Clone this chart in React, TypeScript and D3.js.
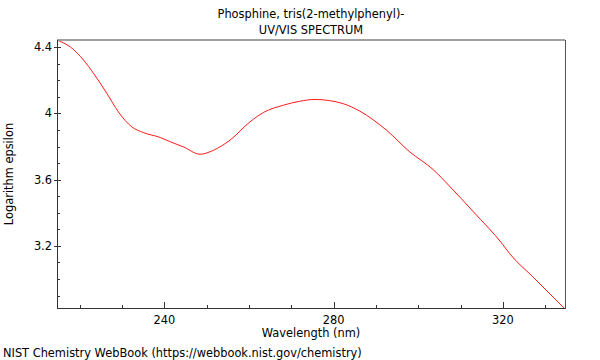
import React from 'react'
import { scaleLinear, line, curveMonotoneX } from 'd3'

const width = 600
const height = 360
const margin = { left: 57, right: 35, top: 40, bottom: 52 }
const innerW = width - margin.left - margin.right
const innerH = height - margin.top - margin.bottom

const titleLines = ['Phosphine, tris(2-methylphenyl)-', 'UV/VIS SPECTRUM']

// wavelength (nm) and log epsilon
const wavelengths = [
  214.6, 217.75, 220.9, 223.25, 226.4, 229.1, 232.3, 235.0, 239.0, 241.3, 244.5,
  248.4, 251.6, 255.5, 260.2, 263.4, 268.1, 272.0, 275.6, 279.0, 282.2, 286.2,
  292.5, 298.0, 303.5, 307.4, 312.9, 320.0, 321.6, 327.1, 334.6,
]
const logEps = [
  4.443, 4.402, 4.322, 4.242, 4.121, 4.010, 3.919, 3.885, 3.855, 3.83, 3.798,
  3.754, 3.778, 3.839, 3.949, 4.006, 4.050, 4.074, 4.085, 4.078, 4.060, 4.014,
  3.899, 3.768, 3.662, 3.561, 3.410, 3.208, 3.154, 3.013, 2.822,
]

const xMajor = [240, 280, 320]
const xMinor = [220, 230, 250, 260, 270, 290, 300, 310, 330]
const yMajor = [3.2, 3.6, 4, 4.4]
const yMinor = [2.9, 3.0, 3.1, 3.3, 3.4, 3.5, 3.7, 3.8, 3.9, 4.1, 4.2, 4.3]

const x = scaleLinear().domain([214.6, 334.7]).range([0, innerW])
const y = scaleLinear().domain([2.825, 4.444]).range([innerH, 0])

const spectrum = line<number>()
  .x((_, i) => x(wavelengths[i]))
  .y(d => y(d))
  .curve(curveMonotoneX)

const font = 'DejaVu Sans, sans-serif'
const fs = 11.4

export default function App() {
  return (
    <svg width={width} height={height} style={{ position: 'absolute', left: 0, top: 0, background: '#fff' }}>
      {titleLines.map((t, i) => (
        <text key={t} x={margin.left + innerW / 2} y={18 + i * 16} textAnchor="middle"
          fontFamily={font} fontSize={fs} fill="#000">{t}</text>
      ))}
      <g transform={`translate(${margin.left},${margin.top})`}>
        <path d={spectrum(logEps) ?? ''} fill="none" stroke="#ff0000" strokeWidth={0.9} />
        {/* frame */}
        <line x1={0} x2={innerW} y1={0} y2={0} stroke="#a0a0a0" strokeWidth={2} />
        <line x1={innerW + 0.5} x2={innerW + 0.5} y1={0} y2={innerH} stroke="#555" strokeWidth={1} />
        <line x1={0.5} x2={0.5} y1={0} y2={innerH} stroke="#333" strokeWidth={1} />
        <line x1={0} x2={innerW + 1} y1={innerH + 0.5} y2={innerH + 0.5} stroke="#333" strokeWidth={1} />
        {xMajor.map(v => (
          <g key={v}>
            <line x1={Math.round(x(v)) + 0.5} x2={Math.round(x(v)) + 0.5} y1={innerH} y2={innerH - 6} stroke="#333" />
            <text x={x(v)} y={innerH + 16} textAnchor="middle" fontFamily={font} fontSize={fs} fill="#000">{v}</text>
          </g>
        ))}
        {xMinor.map(v => (
          <line key={v} x1={Math.round(x(v)) + 0.5} x2={Math.round(x(v)) + 0.5} y1={innerH} y2={innerH - 3} stroke="#333" />
        ))}
        {yMajor.map(v => (
          <g key={v}>
            <line x1={-3} x2={4} y1={Math.round(y(v)) + 0.5} y2={Math.round(y(v)) + 0.5} stroke="#333" />
            <text x={-5} y={y(v) + 4} textAnchor="end" fontFamily={font} fontSize={fs} fill="#000">{v}</text>
          </g>
        ))}
        {yMinor.map(v => (
          <line key={v} x1={0} x2={3} y1={Math.round(y(v)) + 0.5} y2={Math.round(y(v)) + 0.5} stroke="#333" />
        ))}
        <text x={innerW / 2} y={innerH + 29} textAnchor="middle" fontFamily={font} fontSize={fs} fill="#000">
          Wavelength (nm)
        </text>
        <text transform={`translate(${-44},${innerH / 2}) rotate(-90)`} textAnchor="middle"
          fontFamily={font} fontSize={fs} fill="#000">Logarithm epsilon</text>
      </g>
      <text x={3} y={357} fontFamily={font} fontSize={fs} fill="#000">
        NIST Chemistry WebBook (https://webbook.nist.gov/chemistry)
      </text>
    </svg>
  )
}
